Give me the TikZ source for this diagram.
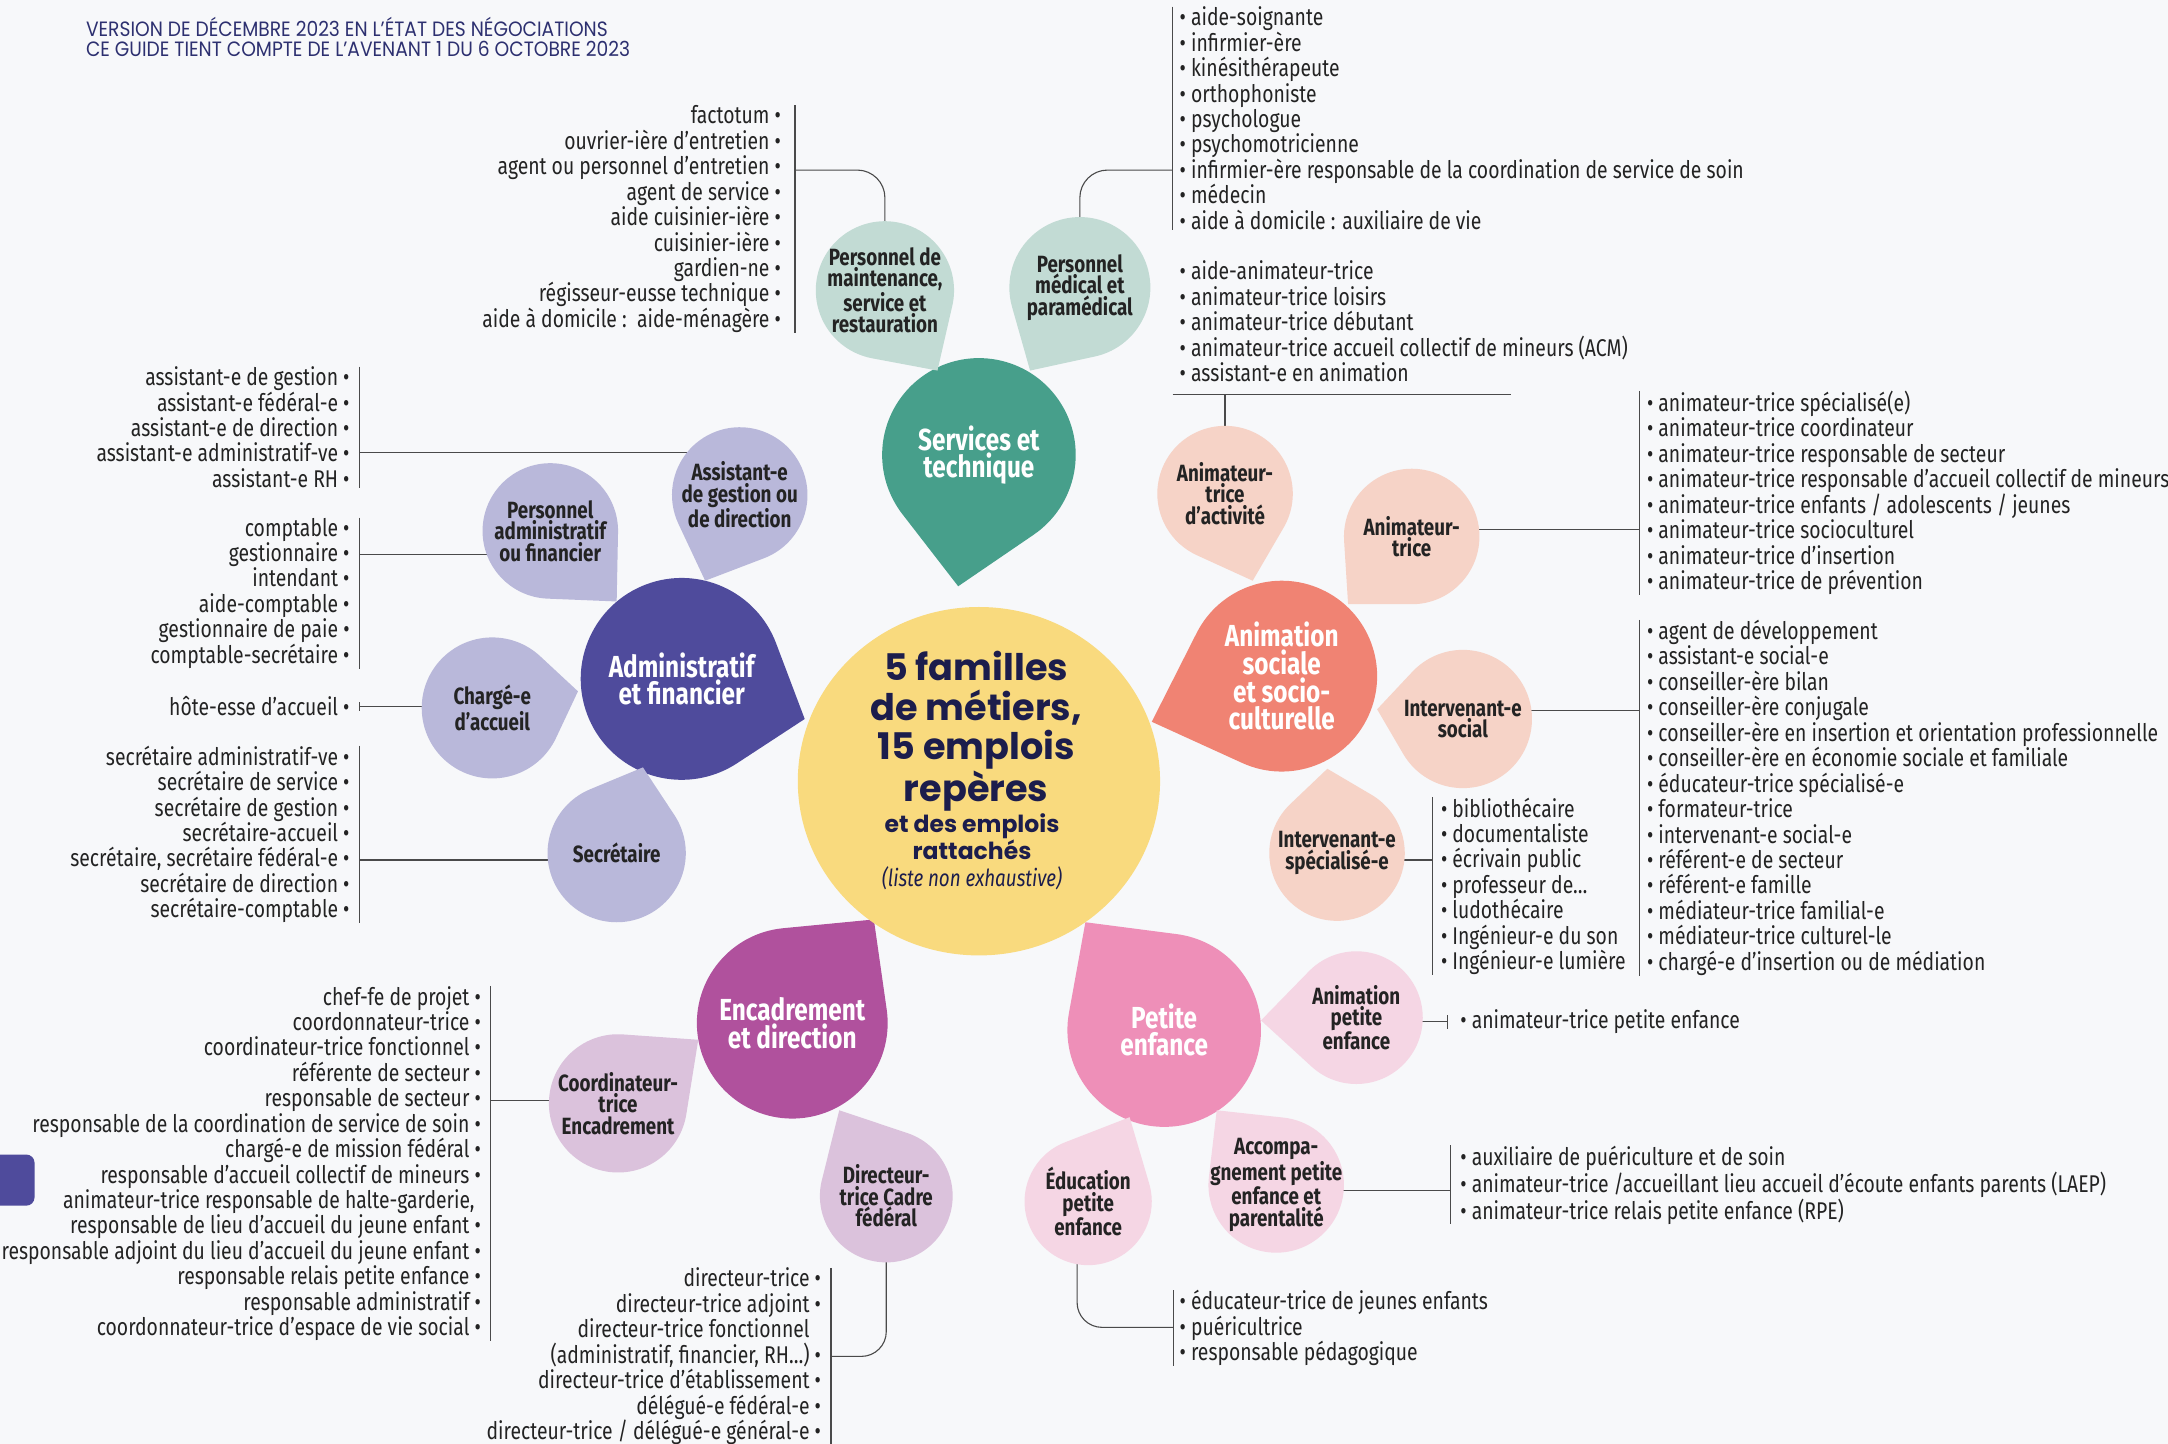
\documentclass[tikz,border=0pt]{standalone}
\usepackage{fontspec}
\setmainfont{Fira Sans}[FakeStretch=0.8]
\newfontfamily\poppins{Poppins}
\newfontfamily\headfont{Poppins}[FakeStretch=0.9]
\usetikzlibrary{calc,backgrounds}

\definecolor{paper}{HTML}{F7F8FA}
\definecolor{ink}{HTML}{232323}
\definecolor{navy}{HTML}{1C1D4C}
\definecolor{headc}{HTML}{2D3070}
\definecolor{linec}{HTML}{4A4A4A}
\definecolor{sun}{HTML}{F9DA7E}
\definecolor{tealA}{HTML}{479F8B}
\definecolor{tealB}{HTML}{C2DBD4}
\definecolor{indA}{HTML}{4F4B9C}
\definecolor{indB}{HTML}{B9B8DA}
\definecolor{salA}{HTML}{F08373}
\definecolor{salB}{HTML}{F6D3C7}
\definecolor{magA}{HTML}{B0519D}
\definecolor{magB}{HTML}{DBC2DC}
\definecolor{pinkA}{HTML}{EE8FB8}
\definecolor{pinkB}{HTML}{F5D6E4}

% drop shape: name, centre, radius, tip, fill, label style, text
\newcommand\petal[7]{%
  \fill[#5] let \p1=#2, \p2=#4,
    \n1={atan2(\y2-\y1,\x2-\x1)}, \n2={veclen(\x2-\x1,\y2-\y1)},
    \n3={acos(#3/\n2)} in
    (\p2) -- ($(\p1)+(\n1+\n3:#3pt)$)
    arc[start angle=\n1+\n3, delta angle=360-2*\n3, radius=#3pt] -- cycle;
  \node[circle, inner sep=0pt, minimum size=2*#3pt,
    label={[#6]center:{#7}}] (#1) at #2 {};}

\begin{document}
\begin{tikzpicture}[x=1pt,y=-1pt,
  link/.style={draw=linec, line width=0.8pt},
  lbl/.style={font=\bfseries\fontsize{17}{15.5}\selectfont, align=center, text=ink},
  fam/.style={font=\bfseries\fontsize{22}{20}\selectfont, align=center, text=white},
  iteml/.style={font=\fontsize{17.5}{18.4}\selectfont, align=left, inner sep=0pt, text=ink, anchor=west},
  itemr/.style={font=\fontsize{17.5}{18.4}\selectfont, align=right, inner sep=0pt, text=ink, anchor=east}]

\useasboundingbox (0,0) rectangle (1568,1044);
\begin{scope}[on background layer]
  \fill[paper] (0,0) rectangle (1568,1044);
\end{scope}

\node[anchor=north west, align=left, inner sep=0pt, text=headc,
  font=\headfont\fontsize{15}{15}\selectfont] (head) at (62,12)
  {VERSION DE DÉCEMBRE 2023 EN L’ÉTAT DES NÉGOCIATIONS\\
   CE GUIDE TIENT COMPTE DE L’AVENANT 1 DU 6 OCTOBRE 2023};
\fill[indA, rounded corners=6pt] (-10,835) rectangle (25,872);

% families
\petal{fst}{(708,329)}{70}{(693,424)}{tealA}{fam}{Services et\\technique}
\petal{fadm}{(493,491)}{73}{(582,520)}{indA}{fam}{Administratif\\et financier}
\petal{fani}{(927,489)}{69}{(833,522)}{salA}{fam}{Animation\\sociale\\et socio-\\culturelle}
\petal{fenc}{(573,740)}{69}{(632,665)}{magA}{fam}{Encadrement\\et direction}
\petal{fpe}{(842,745)}{70}{(785,667)}{pinkA}{fam}{Petite\\enfance}

% services et technique
\petal{pm}{(640,210)}{50}{(678,268)}{tealB}{lbl}{Personnel de\\maintenance,\\service et\\restauration}
\petal{pmed}{(781,208)}{51}{(745,268)}{tealB}{lbl}{Personnel\\médical et\\paramédical}

% administratif et financier
\petal{padm}{(398,384)}{49}{(446,435)}{indB}{lbl}{Personnel\\administratif\\ou financier}
\petal{pass}{(535,358)}{49}{(510,420)}{indB}{lbl}{Assistant-e\\de gestion ou\\de direction}
\petal{pacc}{(356,512)}{51}{(418,500)}{indB}{lbl}{Chargé-e\\d’accueil}
\petal{psec}{(446,617)}{50}{(465,555)}{indB}{lbl}{Secrétaire}

% animation sociale
\petal{pact}{(886,357)}{49}{(906,420)}{salB}{lbl}{Animateur-\\trice\\d’activité}
\petal{pani}{(1021,388)}{49}{(975,437)}{salB}{lbl}{Animateur-\\trice}
\petal{psoc}{(1058,520)}{50}{(996,513)}{salB}{lbl}{Intervenant-e\\social}
\petal{pspe}{(967,617)}{49}{(960,556)}{salB}{lbl}{Intervenant-e\\spécialisé-e}

% encadrement
\petal{pcoo}{(447,798)}{50}{(505,752)}{magB}{lbl}{Coordinateur-\\trice\\Encadrement}
\petal{pdir}{(641,865)}{48}{(607,803)}{magB}{lbl}{Directeur-\\trice Cadre\\fédéral}

% petite enfance
\petal{pape}{(981,736)}{48}{(912,738)}{pinkB}{lbl}{Animation\\petite\\enfance}
\petal{pacp}{(923,857)}{49}{(880,803)}{pinkB}{lbl}{Accompa-\\gnement petite\\enfance et\\parentalité}
\petal{pedu}{(787,869)}{46}{(817,808)}{pinkB}{lbl}{Éducation\\petite\\enfance}

% centre
\fill[sun] (708,565) ellipse [x radius=131, y radius=126];
\node[align=center, text=navy, inner sep=0pt,
  font=\poppins\bfseries\fontsize{26.5}{28.5}\selectfont] (ctitle) at (706,529)
  {5 familles\\de métiers,\\15 emplois\\repères};
\node[align=center, text=navy, inner sep=0pt,
  font=\poppins\bfseries\fontsize{17}{20}\selectfont] (csub) at (703,605)
  {et des emplois\\rattachés};
\node[text=navy, inner sep=0pt, font=\itshape\fontsize{17}{18}\selectfont] (cnote) at (703,635)
  {(liste non exhaustive)};

% lists
\node[itemr] (lmaint) at (565,158.5) {factotum •\\ouvrier-ière d’entretien •\\agent ou personnel d’entretien •\\agent de service •\\aide cuisinier-ière •\\cuisinier-ière •\\gardien-ne •\\régisseur-eusse technique •\\aide à domicile :~~aide-ménagère •};
\node[iteml] (lmed) at (853,85.5) {• aide-soignante\\• infirmier-ère\\• kinésithérapeute\\• orthophoniste\\• psychologue\\• psychomotricienne\\• infirmier-ère responsable de la coordination de service de soin\\• médecin\\• aide à domicile : auxiliaire de vie};
\node[iteml] (lact) at (853,232.5) {• aide-animateur-trice\\• animateur-trice loisirs\\• animateur-trice débutant\\• animateur-trice accueil collectif de mineurs (ACM)\\• assistant-e en animation};
\node[iteml] (lanim) at (1191,356.5) {• animateur-trice spécialisé(e)\\• animateur-trice coordinateur\\• animateur-trice responsable de secteur\\• animateur-trice responsable d’accueil collectif de mineurs\\• animateur-trice enfants / adolescents / jeunes\\• animateur-trice socioculturel\\• animateur-trice d’insertion\\• animateur-trice de prévention};
\node[iteml] (lsoc) at (1191,577) {• agent de développement\\• assistant-e social-e\\• conseiller-ère bilan\\• conseiller-ère conjugale\\• conseiller-ère en insertion et orientation professionnelle\\• conseiller-ère en économie sociale et familiale\\• éducateur-trice spécialisé-e\\• formateur-trice\\• intervenant-e social-e\\• référent-e de secteur\\• référent-e famille\\• médiateur-trice familial-e\\• médiateur-trice culturel-le\\• chargé-e d’insertion ou de médiation};
\node[iteml] (lspe) at (1042,641) {• bibliothécaire\\• documentaliste\\• écrivain public\\• professeur de…\\• ludothécaire\\• Ingénieur-e du son\\• Ingénieur-e lumière};
\node[iteml] (lape) at (1056,739) {• animateur-trice petite enfance};
\node[iteml] (lacc) at (1056,857) {• auxiliaire de puériculture et de soin\\• animateur-trice /accueillant lieu accueil d’écoute enfants parents (LAEP)\\• animateur-trice relais petite enfance (RPE)};
\node[iteml] (ledu) at (853,960.5) {• éducateur-trice de jeunes enfants\\• puéricultrice\\• responsable pédagogique};
\node[itemr] (lass) at (253,309) {assistant-e de gestion •\\assistant-e fédéral-e •\\assistant-e de direction •\\assistant-e administratif-ve •\\assistant-e RH •};
\node[itemr] (ladm) at (253,429) {comptable •\\gestionnaire •\\intendant •\\aide-comptable •\\gestionnaire de paie •\\comptable-secrétaire •};
\node[itemr] (lacu) at (253,511) {hôte-esse d’accueil •};
\node[itemr] (lsec) at (253,603.5) {secrétaire administratif-ve •\\secrétaire de service •\\secrétaire de gestion •\\secrétaire-accueil •\\secrétaire, secrétaire fédéral-e •\\secrétaire de direction •\\secrétaire-comptable •};
\node[itemr] (lcoo) at (348,841.5) {chef-fe de projet •\\coordonnateur-trice •\\coordinateur-trice fonctionnel •\\référente de secteur •\\responsable de secteur •\\responsable de la coordination de service de soin •\\chargé-e de mission fédéral •\\responsable d’accueil collectif de mineurs •\\animateur-trice responsable de halte-garderie,\hphantom{•}\\responsable de lieu d’accueil du jeune enfant •\\responsable adjoint du lieu d’accueil du jeune enfant •\\responsable relais petite enfance •\\responsable administratif •\\coordonnateur-trice d’espace de vie social •};
\node[itemr] (ldir) at (594,981) {directeur-trice •\\directeur-trice adjoint •\\directeur-trice fonctionnel\hphantom{ •}\\(administratif, financier, RH…) •\\directeur-trice d’établissement •\\délégué-e fédéral-e •\\directeur-trice / délégué-e général-e •};

% bars and connectors
\begin{scope}[on background layer]
  \coordinate (kmaint) at (575,123);
  \coordinate (kmed) at (848,123);
  \coordinate (kact) at (848,285);
  \coordinate (banim) at (1186,383);
  \coordinate (bsoc) at (1186,514);
  \coordinate (bspe) at (1036,622);
  \coordinate (bape) at (1047,739);
  \coordinate (bacc) at (1049,861);
  \coordinate (bedu) at (849,960);
  \coordinate (bass) at (260,327);
  \coordinate (badm) at (260,401);
  \coordinate (bacu) at (260,511);
  \coordinate (bsec) at (260,622);
  \coordinate (bcoo) at (355,796);
  \coordinate (bdir) at (601,981);

  \draw[link] ([xshift=10pt]lmaint.north east) -- ([xshift=10pt]lmaint.south east);
  \draw[link] ([xshift=-5pt]lmed.north west) -- ([xshift=-5pt]lmed.south west);
  \draw[link] ([xshift=-5pt]lanim.north west) -- ([xshift=-5pt]lanim.south west);
  \draw[link] ([xshift=-5pt]lsoc.north west) -- ([xshift=-5pt]lsoc.south west);
  \draw[link] ([xshift=-6pt]lspe.north west) -- ([xshift=-6pt]lspe.south west);
  \draw[link] ([xshift=-9pt,yshift=-4pt]lape.north west) -- ([xshift=-9pt,yshift=4pt]lape.south west);
  \draw[link] ([xshift=-7pt]lacc.north west) -- ([xshift=-7pt]lacc.south west);
  \draw[link] ([xshift=-4pt]ledu.north west) -- ([xshift=-4pt]ledu.south west);
  \draw[link] ([xshift=7pt]lass.north east) -- ([xshift=7pt]lass.south east);
  \draw[link] ([xshift=7pt]ladm.north east) -- ([xshift=7pt]ladm.south east);
  \draw[link] ([xshift=7pt,yshift=-4pt]lacu.north east) -- ([xshift=7pt,yshift=4pt]lacu.south east);
  \draw[link] ([xshift=7pt]lsec.north east) -- ([xshift=7pt]lsec.south east);
  \draw[link] ([xshift=7pt]lcoo.north east) -- ([xshift=7pt]lcoo.south east);
  \draw[link] ([xshift=7pt]ldir.north east) -- ([xshift=7pt]ldir.south east);

  \draw[link, rounded corners=20pt] (pm.center) |- (kmaint);
  \draw[link, rounded corners=20pt] (pmed.center) |- (kmed);
  \draw[link] (kact) -- ++(245,0);
  \draw[link] (pact.center) -- (pact.center |- kact);
  \draw[link] (banim) -- (banim -| pani.center);
  \draw[link] (bsoc) -- (bsoc -| psoc.center);
  \draw[link] (bspe) -- (bspe -| pspe.center);
  \draw[link] (bape) -- (bape -| pape.center);
  \draw[link] (bacc) -- (bacc -| pacp.center);
  \draw[link, rounded corners=18pt] ([xshift=-8pt]pedu.center) |- (bedu);
  \draw[link] (bass) -- (bass -| pass.center);
  \draw[link] (badm) -- (badm -| padm.center);
  \draw[link] (bacu) -- (bacu -| pacc.center);
  \draw[link] (bsec) -- (bsec -| psec.center);
  \draw[link] (bcoo) -- (bcoo -| pcoo.center);
  \draw[link, rounded corners=18pt] (pdir.center) |- (bdir);
\end{scope}
\end{tikzpicture}
\end{document}
